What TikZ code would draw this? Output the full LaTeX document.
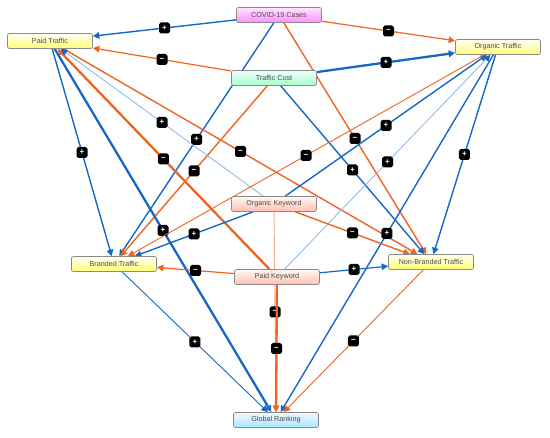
\documentclass[tikz,border=0pt]{standalone}
\usepackage{fontspec}
\setmainfont{Liberation Sans}
\usepackage{tikz}
\usetikzlibrary{arrows.meta,backgrounds}
\definecolor{LinkBlue}{HTML}{1668C4}
\definecolor{LinkOrange}{HTML}{EE6420}
\definecolor{LinkPaleBlue}{HTML}{8DBDE9}
\definecolor{LinkPaleOrange}{HTML}{F5AE88}
\definecolor{BoxLine}{HTML}{8A8A8A}
\definecolor{BoxText}{HTML}{4C4C4C}

\tikzset{
  factor/.style={rounded corners=2pt,draw=BoxLine,line width=0.7pt,
    minimum width=85pt,minimum height=15pt,inner sep=0pt,
    text=BoxText,font=\fontsize{7.2}{8}\selectfont},
  trafficbox/.style={factor,top color=yellow!4!white,bottom color=yellow!55!white},
  casesbox/.style={factor,top color=magenta!10!white,bottom color=magenta!45!white},
  costbox/.style={factor,top color=cyan!6!white,bottom color=cyan!40!green!35!white},
  keywordbox/.style={factor,top color=orange!5!white,bottom color=orange!35!red!30!white},
  rankbox/.style={factor,top color=blue!4!white,bottom color=blue!25!cyan!35!white},
  link/.style={-{Triangle[length=6.5pt,width=6.5pt]},line width=1.4pt},
  posfx/.style={link,draw=LinkBlue},
  negfx/.style={link,draw=LinkOrange},
  heavy/.style={line width=2.3pt},
  light/.style={line width=0.9pt},
  sign/.style={fill=black,rounded corners=1.8pt,minimum size=11pt,inner sep=0pt,
    text=white,font=\bfseries\fontsize{8}{8}\selectfont},
}

\begin{document}
\begin{tikzpicture}[x=1pt,y=-1pt]
  \useasboundingbox (0,0) rectangle (550,438);

  % factors
  \node[casesbox]   (covid)   at (279,15)  {COVID-19 Cases};
  \node[trafficbox] (paid)    at (50,41)   {Paid Traffic};
  \node[trafficbox] (organic) at (498,47)  {Organic Traffic};
  \node[costbox]    (cost)    at (274,78)  {Traffic Cost};
  \node[keywordbox] (okw)     at (274,204) {Organic Keyword};
  \node[trafficbox] (branded) at (114,264) {Branded Traffic};
  \node[keywordbox] (pkw)     at (277,277) {Paid Keyword};
  \node[trafficbox] (nonbr)   at (431,262) {Non-Branded Traffic};
  \node[rankbox]    (rank)    at (276,420) {Global Ranking};

  % causal links
  \begin{scope}[on background layer]
    \draw[posfx] (covid) -- node[sign] {+} (paid);
    \draw[negfx,line width=1.2pt] (covid) -- node[sign] {−} (organic);
    \draw[negfx,line width=1.2pt] (cost) -- node[sign] {−} (paid);
    \draw[posfx,heavy] (cost) -- node[sign] {+} (organic);
    \draw[posfx] (covid) -- node[sign] {+} (branded);
    \draw[negfx] (covid) -- node[sign] {−} (nonbr);
    \draw[negfx] (cost) -- node[sign] {−} (branded);
    \draw[posfx] (cost) -- node[sign] {+} (nonbr);
    \draw[posfx] (paid) -- node[sign] {+} (branded);
    \draw[posfx,heavy] (paid) -- node[sign] {+} (rank);
    \draw[negfx] (paid) -- node[sign] {−} (nonbr);
    \draw[negfx,heavy] (pkw) -- node[sign] {−} (paid);
    \draw[posfx,light,draw=LinkPaleBlue,-{Triangle[length=6.5pt,width=6.5pt,color=LinkBlue]}]
      (okw) -- node[sign] {+} (paid);
    \draw[posfx] (okw) -- node[sign] {+} (organic);
    \draw[posfx,light,draw=LinkPaleBlue,-{Triangle[length=6.5pt,width=6.5pt,color=LinkBlue]}]
      (pkw) -- node[sign] {+} (organic);
    \draw[negfx,light] (organic) -- node[sign] {−} (branded);
    \draw[posfx] (organic) -- node[sign] {+} (nonbr);
    \draw[posfx] (organic) -- node[sign] {+} (rank);
    \draw[posfx] (okw) -- node[sign] {+} (branded);
    \draw[negfx] (okw) -- node[sign] {−} (nonbr);
    \draw[negfx,light,draw=LinkPaleOrange] (okw) -- node[sign] {−} (rank);
    \draw[negfx,line width=1.2pt] (pkw) -- node[sign] {−} (branded);
    \draw[posfx,line width=1.2pt] (pkw) -- node[sign] {+} (nonbr);
    \draw[negfx,heavy] (pkw) -- node[sign] {−} (rank);
    \draw[posfx,light] (branded) -- node[sign] {+} (rank);
    \draw[negfx,light] (nonbr) -- node[sign] {−} (rank);
  \end{scope}
\end{tikzpicture}
\end{document}
